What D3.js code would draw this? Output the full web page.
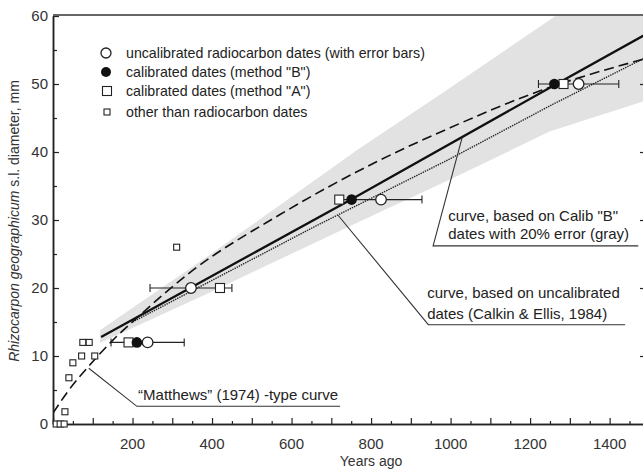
<!DOCTYPE html>
<html>
<head>
<meta charset="utf-8">
<script src="https://cdn.jsdelivr.net/npm/d3@7"></script>
<style>
  body { margin: 0; background: #fff; }
  svg { font-family: "Liberation Sans", Arial, sans-serif; }
</style>
</head>
<body>
<div id="chart"></div>
<script>
// values (years ago, diameter mm)
var uncalYears = [238, 347, 825, 1322];
var uncalMm = [12, 20, 33, 50];
var uncalErr = [92, 103, 103, 101];

var calibBYears = [211, 751, 1261];
var calibBMm = [12, 33, 50];

var calibAYears = [190, 420, 720, 1284];
var calibAMm = [12, 20, 33, 50];

var otherYears = [8, 18, 28, 30, 40, 50, 72, 75, 91, 105, 311];
var otherMm = [0, 0, 0, 1.8, 6.8, 9.0, 10.0, 12, 12, 10, 26];

// curve, based on Calib "B" dates (solid) and its 20% error band (gray)
var calibCurveYears = [121, 752, 1263, 1494];
var calibCurveMm = [12.8, 33.1, 49.9, 57.4];
var bandYears = [118, 400, 765, 1000, 1249, 1494];
var bandUpper = [13.8, 25.1, 40.3, 49.5, 59.4, 69.5];
var bandLower = [11.9, 19.5, 29.6, 36.0, 43.0, 47.6];

// curve, based on uncalibrated dates (dotted)
var uncalCurveYears = [200, 657, 999, 1250, 1494];
var uncalCurveMm = [15.0, 29.0, 39.0, 46.8, 54.0];

// "Matthews" (1974) -type curve (dashed)
var matthewsYears = [0, 40, 93, 150, 211, 345, 571, 815, 1000, 1225, 1494];
var matthewsMm = [1.6, 5.0, 8.7, 12.3, 15.6, 22.3, 30.8, 38.6, 43.6, 49.0, 53.8];

var xLabelTicks = [200, 400, 600, 800, 1000, 1200, 1400];
var yLabelTicks = [0, 10, 20, 30, 40, 50, 60];

var width = 643, height = 469;
var svg = d3.select('#chart').append('svg').attr('width', width).attr('height', height);

var x = d3.scaleLinear().domain([0, 1494]).range([53, 647]);
var y = d3.scaleLinear().domain([0, 60]).range([424, 16]);

var plot = svg.append('g');
svg.append('clipPath').attr('id', 'clip').append('rect')
  .attr('x', 53).attr('y', 15).attr('width', 594).attr('height', 410);
var clipped = plot.append('g').attr('clip-path', 'url(#clip)');

function pts(xs, ys) { return xs.map(function(v, i) { return [v, ys[i]]; }); }

// gray band
var band = d3.area()
  .x(function(d) { return x(d[0]); })
  .y0(function(d) { return y(d[1]); })
  .y1(function(d) { return y(d[2]); });
clipped.append('path')
  .datum(bandYears.map(function(v, i) { return [v, bandLower[i], bandUpper[i]]; }))
  .attr('d', band)
  .attr('fill', '#e2e2e2');

var line = d3.line().x(function(d) { return x(d[0]); }).y(function(d) { return y(d[1]); });
var smooth = d3.line().curve(d3.curveMonotoneX)
  .x(function(d) { return x(d[0]); }).y(function(d) { return y(d[1]); });

clipped.append('path').datum(pts(matthewsYears, matthewsMm)).attr('d', smooth)
  .attr('fill', 'none').attr('stroke', '#111').attr('stroke-width', 1.6)
  .attr('stroke-dasharray', '10,5');
clipped.append('path').datum(pts(uncalCurveYears, uncalCurveMm)).attr('d', line)
  .attr('fill', 'none').attr('stroke', '#222').attr('stroke-width', 1.4)
  .attr('stroke-dasharray', '1.4,1');
clipped.append('path').datum(pts(calibCurveYears, calibCurveMm)).attr('d', line)
  .attr('fill', 'none').attr('stroke', '#111').attr('stroke-width', 2.3);

// axes
var xMajor = d3.axisBottom(x).tickValues(d3.range(0, 1500, 100)).tickSizeInner(-6).tickSizeOuter(0).tickFormat('');
var xMinor = d3.axisBottom(x).tickValues(d3.range(50, 1500, 100)).tickSizeInner(-3).tickSizeOuter(0).tickFormat('');
var yMajor = d3.axisLeft(y).tickValues(yLabelTicks).tickSizeInner(-6).tickSizeOuter(0).tickFormat('');
var yMinor = d3.axisLeft(y).tickValues(d3.range(5, 60, 10)).tickSizeInner(-4).tickSizeOuter(0).tickFormat('');
var yRight = d3.axisRight(y).tickValues([10, 20, 30, 40, 50]).tickSizeInner(-7).tickSizeOuter(0).tickFormat('');

[xMajor, xMinor].forEach(function(ax) {
  plot.append('g').attr('transform', 'translate(0,' + y(0) + ')').call(ax);
});
[yMajor, yMinor].forEach(function(ax) {
  plot.append('g').attr('transform', 'translate(' + x(0) + ',0)').call(ax);
});
plot.append('g').attr('transform', 'translate(' + x(1494) + ',0)').call(yRight);
plot.selectAll('.domain').attr('stroke', '#222').attr('stroke-width', 1.5);
plot.selectAll('.tick line').attr('stroke', '#222').attr('stroke-width', 1.2);

plot.append('line').attr('x1', x(0)).attr('x2', width).attr('y1', 15).attr('y2', 15)
  .attr('stroke', '#666').attr('stroke-width', 2);

var labels = plot.append('g').attr('font-size', 15).attr('fill', '#333');
labels.selectAll('.xl').data(xLabelTicks).enter().append('text')
  .attr('x', function(d) { return x(d); }).attr('y', 449)
  .attr('text-anchor', 'middle').text(function(d) { return d; });
labels.selectAll('.yl').data(yLabelTicks).enter().append('text')
  .attr('x', 48).attr('y', function(d) { return y(d) + 5; })
  .attr('text-anchor', 'end').text(function(d) { return d; });
labels.append('text').attr('x', x(800)).attr('y', 466).attr('text-anchor', 'middle')
  .attr('font-size', 14).text('Years ago');
var yt = labels.append('text').attr('font-size', 14)
  .attr('transform', 'translate(19,' + 221 + ') rotate(-90)').attr('text-anchor', 'middle');
yt.append('tspan').attr('font-style', 'italic').text('Rhizocarpon geographicum');
yt.append('tspan').text(' s.l. diameter, mm');

// error bars
var marks = plot.append('g');
uncalYears.forEach(function(v, i) {
  var x0 = x(v - uncalErr[i]), x1 = x(v + uncalErr[i]), yy = y(uncalMm[i]);
  marks.append('line').attr('x1', x0).attr('x2', x1).attr('y1', yy).attr('y2', yy)
    .attr('stroke', '#222').attr('stroke-width', 1.1);
  [x0, x1].forEach(function(e) {
    marks.append('line').attr('x1', e).attr('x2', e).attr('y1', yy - 4).attr('y2', yy + 4)
      .attr('stroke', '#222').attr('stroke-width', 1.1);
  });
});

function square(g, cx, cy, s) {
  g.append('rect').attr('x', cx - s / 2).attr('y', cy - s / 2).attr('width', s).attr('height', s)
    .attr('fill', '#fff').attr('stroke', '#222').attr('stroke-width', 1.1);
}
otherYears.forEach(function(v, i) { square(marks, x(v), y(otherMm[i]), 6); });
calibAYears.forEach(function(v, i) { square(marks, x(v), y(calibAMm[i]), 9); });
uncalYears.forEach(function(v, i) {
  marks.append('circle').attr('cx', x(v)).attr('cy', y(uncalMm[i])).attr('r', 5.3)
    .attr('fill', '#fff').attr('stroke', '#222').attr('stroke-width', 1.3);
});
calibBYears.forEach(function(v, i) {
  marks.append('circle').attr('cx', x(v)).attr('cy', y(calibBMm[i])).attr('r', 5.3)
    .attr('fill', '#111');
});

// annotations (leaders in data coordinates)
var notes = plot.append('g').attr('font-size', 15).attr('fill', '#222');
function leader(xs, ys) {
  notes.append('path').datum(pts(xs, ys)).attr('d', line)
    .attr('fill', 'none').attr('stroke', '#333').attr('stroke-width', 1.1);
}
leader([90, 211, 722], [8.2, 2.6, 2.6]);
notes.append('text').attr('x', x(214)).attr('y', y(3.5)).text('\u201cMatthews\u201d (1974) -type curve');

leader([1029, 956, 1472], [42.1, 26.2, 26.2]);
notes.append('text').attr('x', x(994)).attr('y', 221).text('curve, based on Calib "B"');
notes.append('text').attr('x', x(994)).attr('y', 239).text('dates with 20% error (gray)');

leader([717, 944, 1439], [30.7, 14.6, 14.6]);
notes.append('text').attr('x', x(941)).attr('y', 298).text('curve, based on uncalibrated');
notes.append('text').attr('x', x(941)).attr('y', 319).text('dates (Calkin & Ellis, 1984)');

// legend
var legend = plot.append('g').attr('font-size', 14.2).attr('fill', '#222');
var legendRows = ['uncalibrated radiocarbon dates (with error bars)', 'calibrated dates (method "B")',
  'calibrated dates (method "A")', 'other than radiocarbon dates'];
var legendY = [53, 72, 91, 112];
legend.append('circle').attr('cx', 106).attr('cy', legendY[0]).attr('r', 5)
  .attr('fill', '#fff').attr('stroke', '#222').attr('stroke-width', 1.3);
legend.append('circle').attr('cx', 106).attr('cy', legendY[1]).attr('r', 5).attr('fill', '#111');
square(legend, 107, legendY[2], 9);
square(legend, 107, legendY[3], 6);
legendRows.forEach(function(t, i) {
  legend.append('text').attr('x', 126).attr('y', legendY[i] + 5).text(t);
});
</script>
</body>
</html>
